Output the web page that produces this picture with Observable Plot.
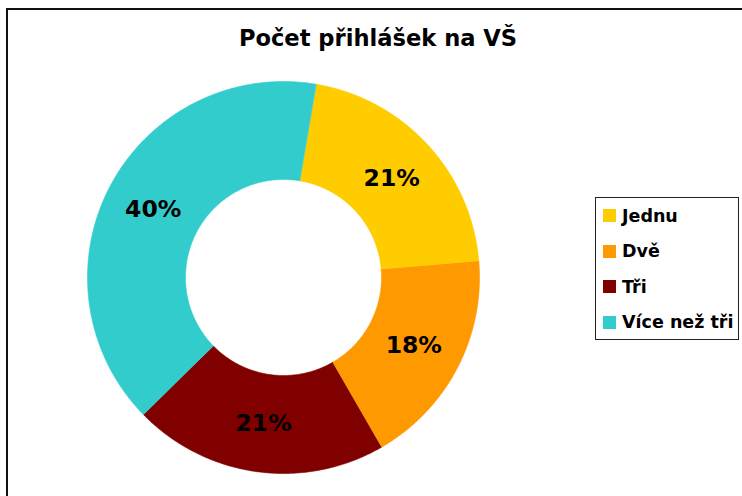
<!DOCTYPE html>
<html>
<head>
<meta charset="utf-8">
<script src="https://cdn.jsdelivr.net/npm/d3@7"></script>
<script src="https://cdn.jsdelivr.net/npm/@observablehq/plot@0.6"></script>
<style>
  html, body { margin: 0; padding: 0; background: #fff; overflow: hidden; }
  #wrap { position: relative; width: 742px; height: 496px; overflow: hidden; font-family: "DejaVu Sans", Verdana, sans-serif; }
  #frame { position: absolute; left: 6px; top: 8px; width: 900px; height: 700px; border: 2px solid #111; box-sizing: border-box; }
  #chart { position: absolute; left: 0; top: 0; }
  #title { position: absolute; left: 0; top: 25px; width: 756px; text-align: center; font-weight: bold; font-size: 22.6px; line-height: 1.164; color: #000; white-space: nowrap; }
  #legend { position: absolute; left: 595px; top: 197px; width: 144px; height: 143px; box-sizing: border-box; border: 1px solid #222; background: #fff; }
  .row { display: flex; align-items: center; height: 35.5px; padding-left: 7px; }
  .sw { width: 13px; height: 13px; margin-right: 6px; flex: none; }
  .lab { font-weight: bold; font-size: 17.5px; color: #000; white-space: nowrap; }
</style>
</head>
<body>
<div id="wrap">
  <div id="frame"></div>
  <div id="chart"></div>
  <div id="title"></div>
  <div id="legend"></div>
</div>
<script>
// Data
const titleText = "Počet přihlášek na VŠ";
const categories = ["Jednu", "Dvě", "Tři", "Více než tři"];
const values = [21, 18, 21, 40];
const colors = ["#FFCC00", "#FF9900", "#800000", "#33CCCC"];

// Donut settings
const startAngleDeg = 9.6;   // angle of first slice (clockwise from top)
const innerRatio = 0.5;      // hole size

const total = d3.sum(values);
const slices = [];
let acc = startAngleDeg * Math.PI / 180;
categories.forEach((name, i) => {
  const span = values[i] / total * 2 * Math.PI;
  slices.push({name, value: values[i], a0: acc, a1: acc + span});
  acc += span;
});

// Build ring polygons from the slices
const pts = [];
for (const s of slices) {
  const n = Math.max(2, Math.ceil((s.a1 - s.a0) / (Math.PI / 360)));
  for (let k = 0; k <= n; k++) {
    const a = s.a0 + (s.a1 - s.a0) * k / n;
    pts.push({name: s.name, x: Math.sin(a), y: Math.cos(a)});
  }
  for (let k = n; k >= 0; k--) {
    const a = s.a0 + (s.a1 - s.a0) * k / n;
    pts.push({name: s.name, x: innerRatio * Math.sin(a), y: innerRatio * Math.cos(a)});
  }
}
const labelR = (1 + innerRatio) / 2;
const labels = slices.map(s => {
  const m = (s.a0 + s.a1) / 2;
  return {x: labelR * Math.sin(m), y: labelR * Math.cos(m), text: Math.round(s.value / total * 100) + "%"};
});

const plot = Plot.plot({
  width: 742,
  height: 496,
  marginLeft: 87,
  marginRight: 263,
  marginTop: 81,
  marginBottom: 23,
  x: {domain: [-1, 1], axis: null},
  y: {domain: [-1, 1], axis: null},
  color: {domain: categories, range: colors},
  style: {fontFamily: "DejaVu Sans, Verdana, sans-serif", background: "transparent"},
  marks: [
    Plot.line(pts, {x: "x", y: "y", z: "name", fill: "name", stroke: "name", strokeWidth: 0.6, curve: "linear"}),
    Plot.text(labels, {x: "x", y: "y", text: "text", fontSize: 23.5, fontWeight: "bold", fill: "#000"})
  ]
});
document.getElementById("chart").appendChild(plot);
document.getElementById("title").textContent = titleText;

const legend = document.getElementById("legend");
categories.forEach((c, i) => {
  const row = document.createElement("div");
  row.className = "row";
  const sw = document.createElement("div");
  sw.className = "sw";
  sw.style.background = colors[i];
  const lab = document.createElement("div");
  lab.className = "lab";
  lab.textContent = c;
  row.appendChild(sw);
  row.appendChild(lab);
  legend.appendChild(row);
});
</script>
</body>
</html>
